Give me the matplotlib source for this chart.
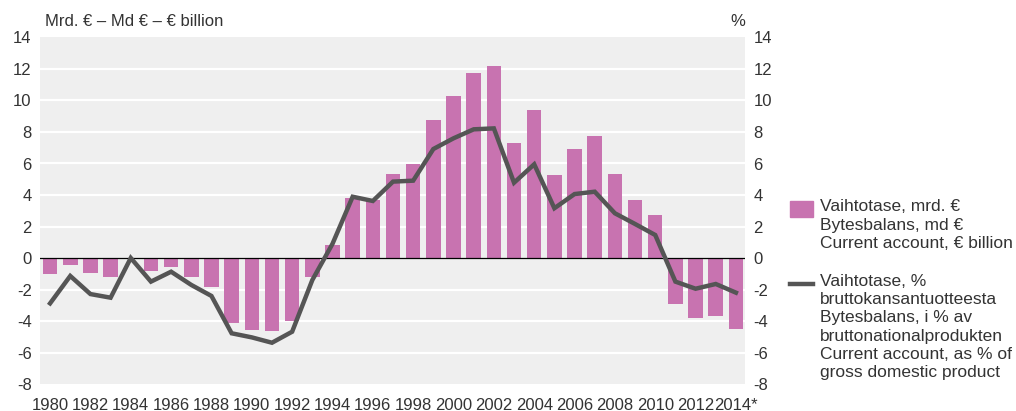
import matplotlib
matplotlib.use("Agg")
import matplotlib.pyplot as plt
import numpy as np
from matplotlib.patches import Rectangle
from matplotlib.lines import Line2D

years = list(range(1980, 2015))
bars_bn = [-1.0, -0.47, -0.97, -1.23, 0.0, -0.8, -0.59, -1.23, -1.86, -4.15,
           -4.57, -4.65, -3.98, -1.19, 0.83, 3.83, 3.68, 5.33, 5.95, 8.74,
           10.27, 11.75, 12.21, 7.28, 9.38, 5.25, 6.92, 7.75, 5.33, 3.70,
           2.71, -2.9, -3.83, -3.68, -4.53]
line_pct = [-2.88, -1.14, -2.29, -2.52, 0.0, -1.5, -0.87, -1.71, -2.41, -4.78,
            -5.04, -5.38, -4.68, -1.40, 0.9, 3.89, 3.62, 4.85, 4.91, 6.92,
            7.6, 8.17, 8.23, 4.78, 5.95, 3.16, 4.06, 4.21, 2.84, 2.16,
            1.46, -1.5, -1.95, -1.65, -2.2]
xtick_labels = [str(y) for y in range(1980, 2013, 2)] + ["2014*"]
yticks = list(range(-8, 15, 2))

bar_color = "#c873b0"
line_color = "#555555"
text_color = "#333333"
font = "Liberation Sans"
fs = 12
lfs = 12.5

plt.rcParams['font.family'] = [font, 'DejaVu Sans']

fig = plt.figure(figsize=(10.16, 4.11), dpi=100)
ax = fig.add_axes([40/1016, 27/411, 705/1016, (384-37.5)/411])
ax.set_facecolor("#efefef")
x = np.arange(len(years))
ax.bar(x, bars_bn, width=0.72, color=bar_color, zorder=2)
ax.axhline(0, color="black", lw=0.9, zorder=3)
ax.plot(x, line_pct, color=line_color, lw=3.2, zorder=4, solid_joinstyle='miter')
for t in yticks[1:-1]:
    if t != 0:
        ax.axhline(t, color="white", lw=1.6, zorder=1)
ax.set_xlim(-0.5, 34.45)
ax.set_ylim(-8, 14)
ax.set_yticks(yticks)
ax.set_yticklabels([str(t) for t in yticks], fontsize=fs, color=text_color)
ax.set_xticks(list(range(0, 35, 2)))
ax.set_xticklabels(xtick_labels, fontsize=fs, color=text_color)
ax.tick_params(axis='x', length=0, pad=10)
ax.tick_params(axis='y', length=0, pad=6)
for s in ax.spines.values():
    s.set_visible(False)

ax2 = ax.twinx()
ax2.set_ylim(-8, 14)
ax2.set_yticks(yticks)
ax2.set_yticklabels([str(t) for t in yticks], fontsize=fs, color=text_color)
ax2.tick_params(length=0, pad=6)
for s in ax2.spines.values():
    s.set_visible(False)

fig.text(45/1016, 1 - 21/411, "Mrd. € – Md € – € billion", fontsize=fs, color=text_color,
         va="center", ha="left")
fig.text(745/1016, 1 - 21/411, "%", fontsize=fs, color=text_color, va="center", ha="right")

# legend
fig.patches.append(Rectangle((790/1016, 1 - 217/411), 23/1016, 16/411,
                             transform=fig.transFigure, color=bar_color))
fig.text(820/1016, 1 - 199/411, "Vaihtotase, mrd. €\nBytesbalans, md €\nCurrent account, € billion",
         fontsize=lfs, color=text_color, va="top", ha="left", linespacing=1.3)
fig.lines.append(Line2D([790/1016, 813/1016], [1 - 284/411, 1 - 284/411],
                        transform=fig.transFigure, color=line_color, lw=3.2))
fig.text(820/1016, 1 - 274/411,
         "Vaihtotase, %\nbruttokansantuotteesta\nBytesbalans, i % av\nbruttonationalprodukten\nCurrent account, as % of\ngross domestic product",
         fontsize=lfs, color=text_color, va="top", ha="left", linespacing=1.27)

fig.savefig("out.png", dpi=100)
